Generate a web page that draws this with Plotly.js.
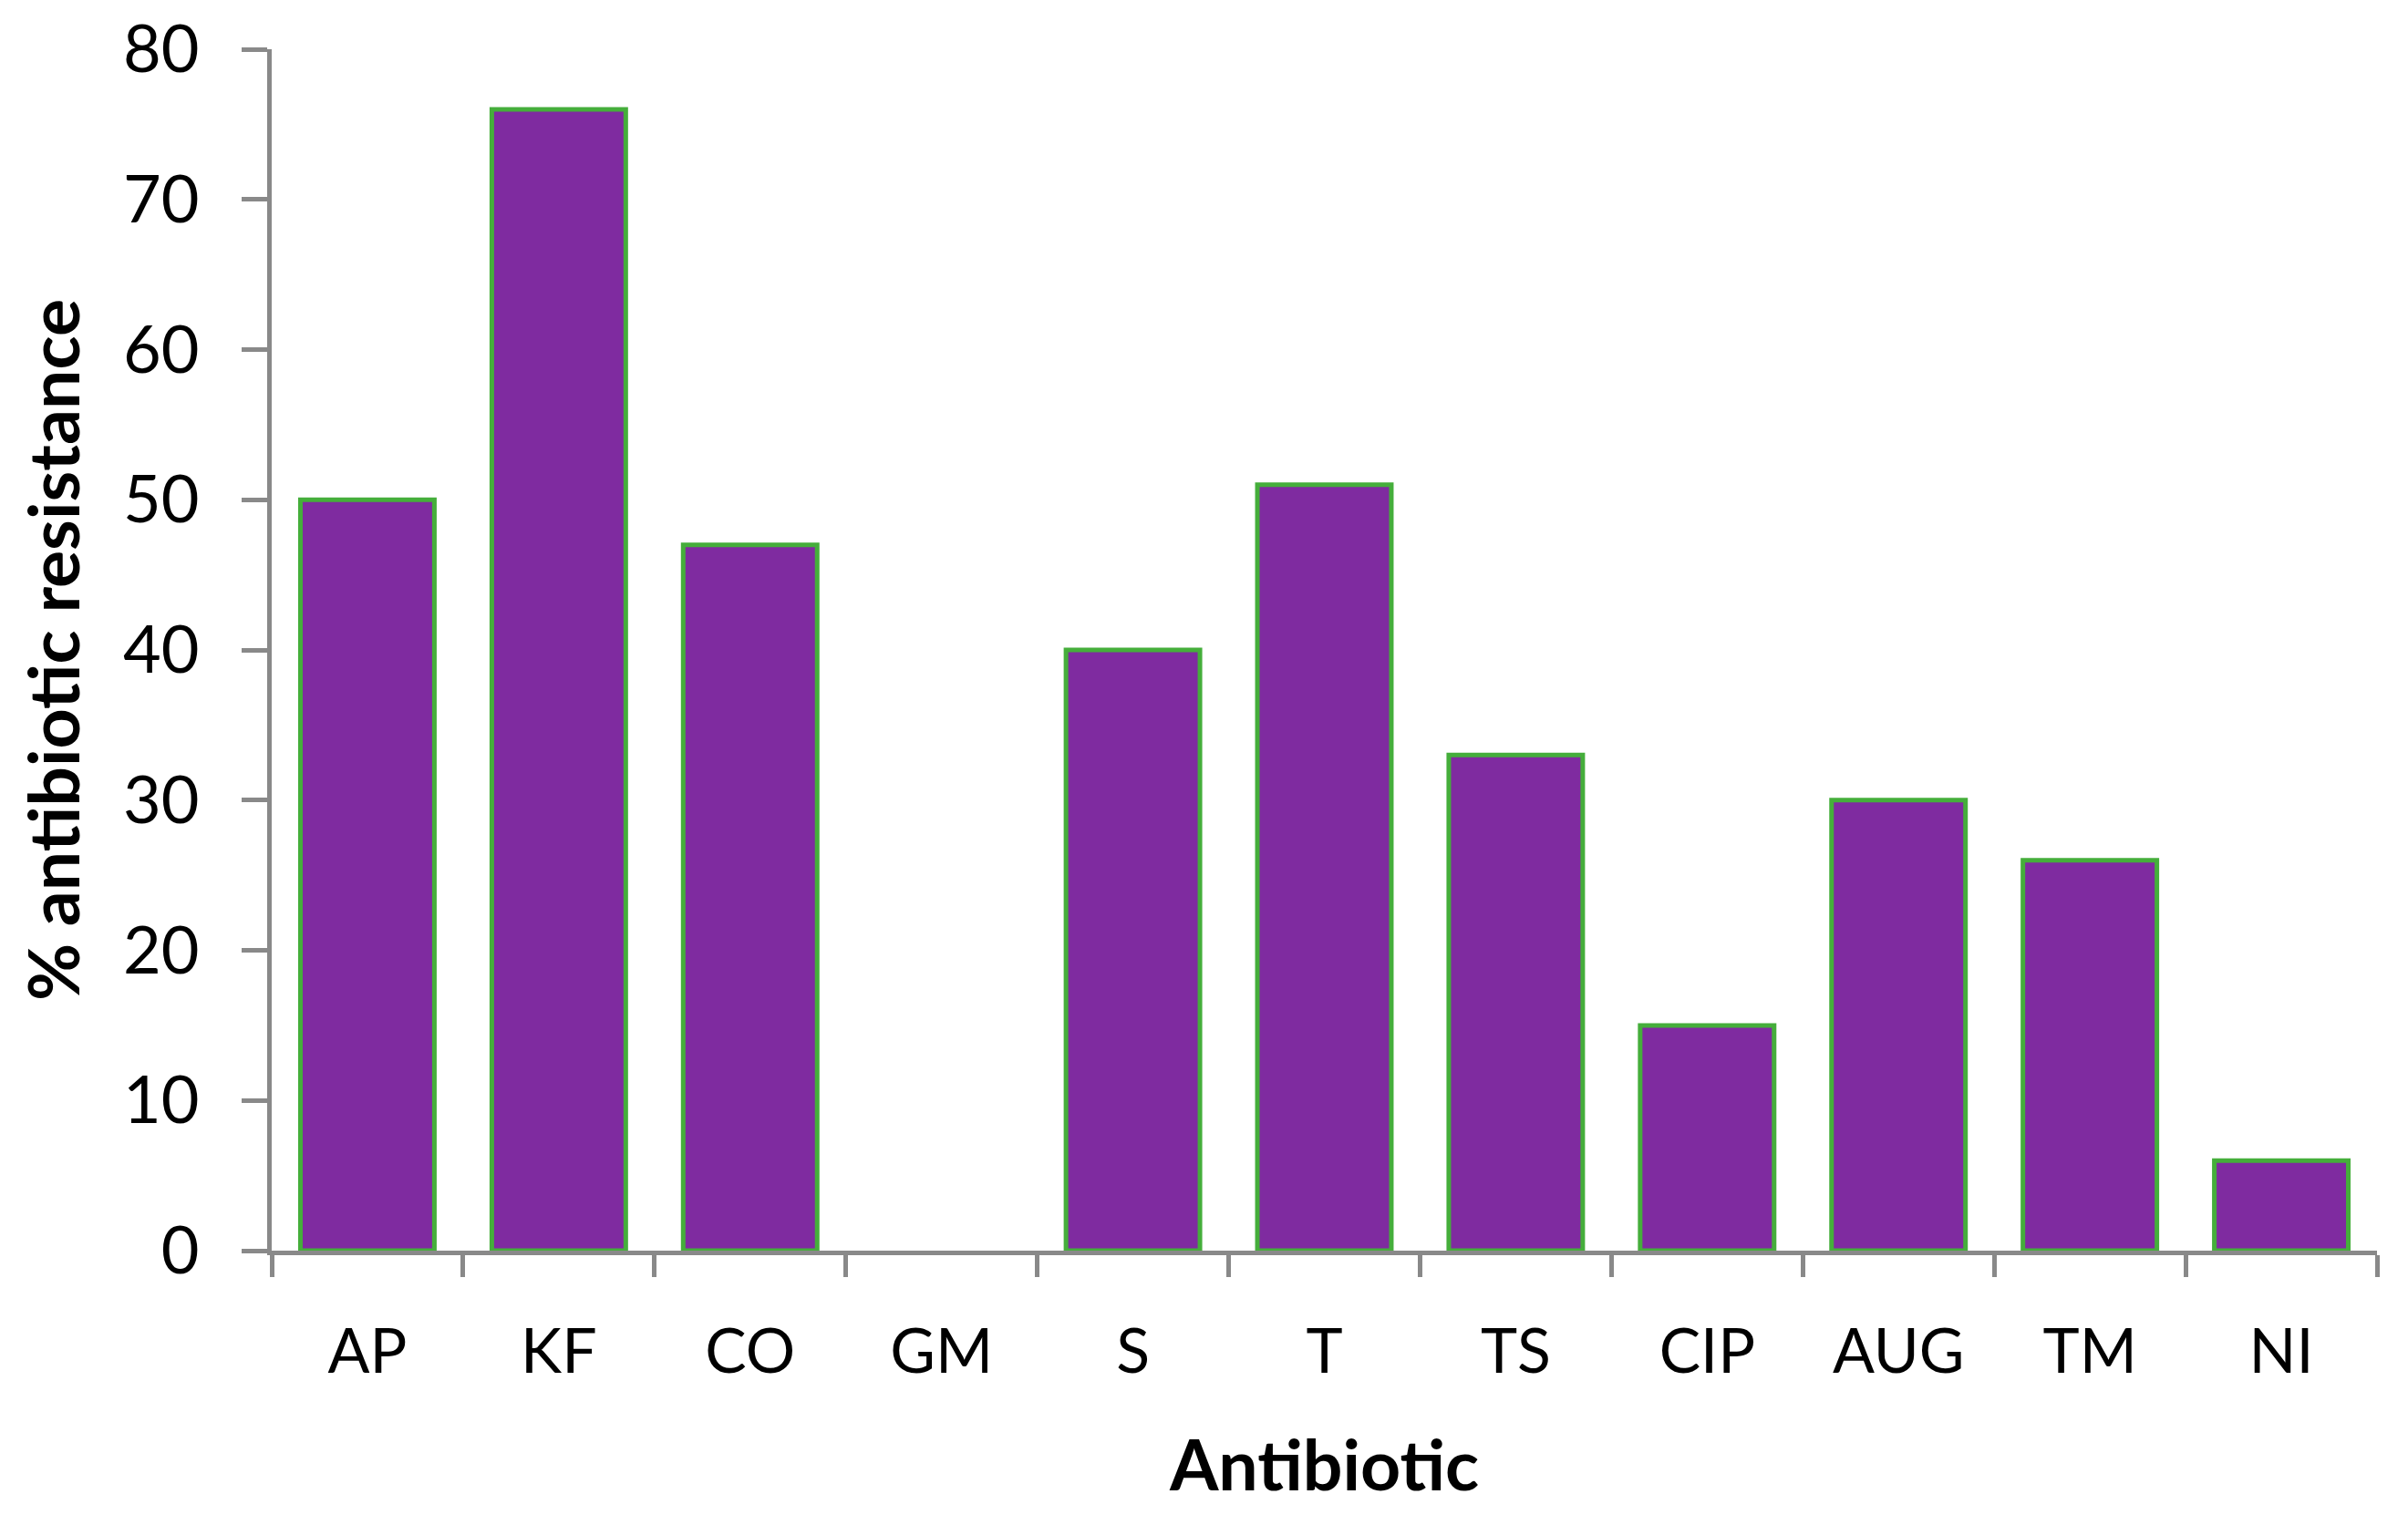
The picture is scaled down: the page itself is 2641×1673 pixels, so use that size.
<!DOCTYPE html>
<html><head><meta charset="utf-8">
<script src="https://cdn.plot.ly/plotly-3.0.1.min.js"></script>
<style>html,body{margin:0;padding:0;background:#fff}#chart{width:2641px;height:1673px}</style>
</head><body><div id="chart"></div>
<script>
const categories = ["AP","KF","CO","GM","S","T","TS","CIP","AUG","TM","NI"];
const resistance = [50,76,47,0,40,51,33,15,30,26,6];
const yTicks = [0,10,20,30,40,50,60,70,80];

const axisColor = "#898989";
const fontFam = "Lato, 'Open Sans', sans-serif";

Plotly.newPlot("chart", [{
  type: "bar",
  x: categories,
  y: resistance,
  marker: {color: "#7F2BA0", line: {color: "#45AE3B", width: resistance.map(v => v === 0 ? 0 : 5)}},
  hoverinfo: "none"
}], {
  width: 2641, height: 1673,
  margin: {l: 298, r: 34, t: 54, b: 301},
  paper_bgcolor: "#fff", plot_bgcolor: "#fff",
  bargap: 0.3,
  showlegend: false,
  font: {family: fontFam, color: "#000"},
  xaxis: {
    type: "category",
    tickson: "boundaries",
    ticks: "outside", ticklen: 24, tickwidth: 5, tickcolor: axisColor,
    showline: true, linecolor: axisColor, linewidth: 5,
    showgrid: false, zeroline: false,
    tickfont: {size: 68, family: fontFam},
    ticklabelstandoff: 47,
    title: {text: "<b>Antibiotic</b>", font: {size: 77, family: fontFam}, standoff: 64}
  },
  yaxis: {
    range: [0, 80],
    tickvals: yTicks,
    ticks: "outside", ticklen: 28, tickwidth: 5, tickcolor: axisColor,
    showline: true, linecolor: axisColor, linewidth: 5,
    showgrid: false, zeroline: false,
    tickfont: {size: 72, family: fontFam},
    ticklabelstandoff: 32,
    title: {text: "<b>% antibiotic resistance</b>", font: {size: 77, family: fontFam}, standoff: 24}
  }
}, {staticPlot: true});
</script></body></html>
